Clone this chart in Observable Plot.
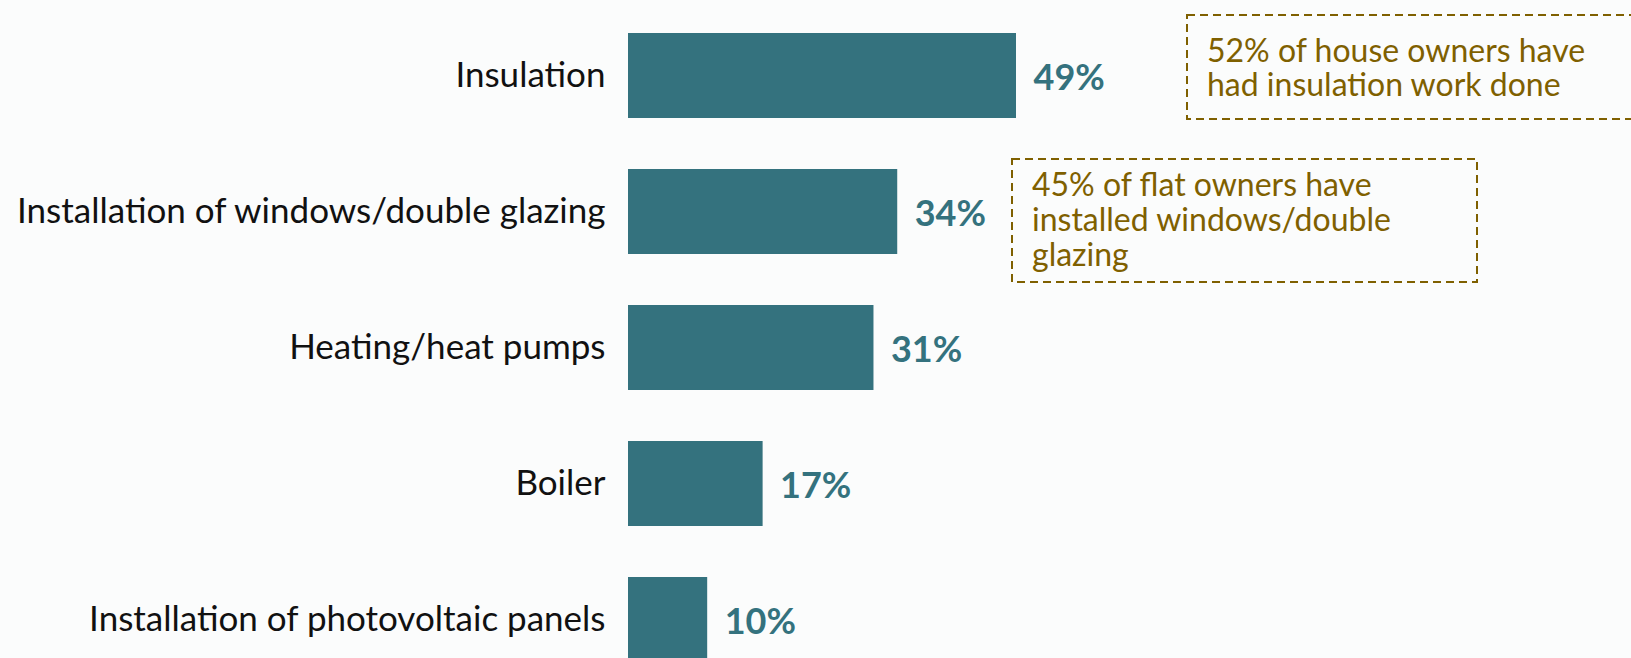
<!DOCTYPE html>
<html>
<head>
<meta charset="utf-8">
<script src="https://cdn.jsdelivr.net/npm/d3@7"></script>
<script src="https://cdn.jsdelivr.net/npm/@observablehq/plot@0.6"></script>
<style>
  html, body { margin: 0; padding: 0; background: #fbfcfc; overflow: hidden; }
  #chart svg { display: block; background: #fbfcfc; }
</style>
</head>
<body>
<div id="chart"></div>
<script>
const categories = [
  "Insulation",
  "Installation of windows/double glazing",
  "Heating/heat pumps",
  "Boiler",
  "Installation of photovoltaic panels"
];
const values = [49, 34, 31, 17, 10];

const note1Lines = ["52% of house owners have", "had insulation work done"];
const note2Lines = ["45% of flat owners have", "installed windows/double", "glazing"];

const data = categories.map((c, i) => ({category: c, value: values[i]}));

const barColor = "#34727e";
const noteColor = "#7f6000";

function noteBox(lines, box) {
  return () => {
    const g = d3.create("svg:g");
    g.append("rect")
      .attr("x", box.x).attr("y", box.y)
      .attr("width", box.w).attr("height", box.h)
      .attr("fill", "none")
      .attr("stroke", noteColor)
      .attr("stroke-width", 2)
      .attr("stroke-dasharray", "8,5");
    const t = g.append("text")
      .attr("fill", noteColor)
      .attr("text-anchor", "start")
      .attr("font-family", "Lato, sans-serif")
      .attr("font-size", box.fs);
    lines.forEach((l, i) => {
      t.append("tspan")
        .attr("x", box.tx)
        .attr("y", box.ty + i * box.lh)
        .text(l);
    });
    return g.node();
  };
}

const chart = Plot.plot({
  width: 1631,
  height: 658,
  marginLeft: 628,
  marginRight: 0,
  marginTop: 0,
  marginBottom: 0,
  style: {fontFamily: "Lato, sans-serif", background: "#fbfcfc", overflow: "hidden"},
  x: {domain: [0, 100], range: [628, 628 + 388 / 49 * 100], axis: null},
  y: {domain: categories, range: [33, 33 + 136 * 4.625], paddingInner: 0.375, paddingOuter: 0, axis: null},
  marks: [
    Plot.barX(data, {x: "value", y: "category", fill: barColor}),
    Plot.axisY({tickSize: 0, tickPadding: 23, fontSize: 35, fill: "#111", anchor: "left", label: null}),
    Plot.text(data, {
      x: "value", y: "category", text: d => d.value + "%",
      textAnchor: "start", dx: 17, dy: 2,
      fill: barColor, fontWeight: "bold", fontSize: 36
    }),
    noteBox(note1Lines, {x: 1187, y: 15, w: 470, h: 104, tx: 1207, ty: 62, lh: 34, fs: 32}),
    noteBox(note2Lines, {x: 1012, y: 159, w: 465, h: 123, tx: 1032, ty: 196, lh: 35, fs: 32})
  ]
});
document.getElementById("chart").appendChild(chart);
</script>
</body>
</html>
